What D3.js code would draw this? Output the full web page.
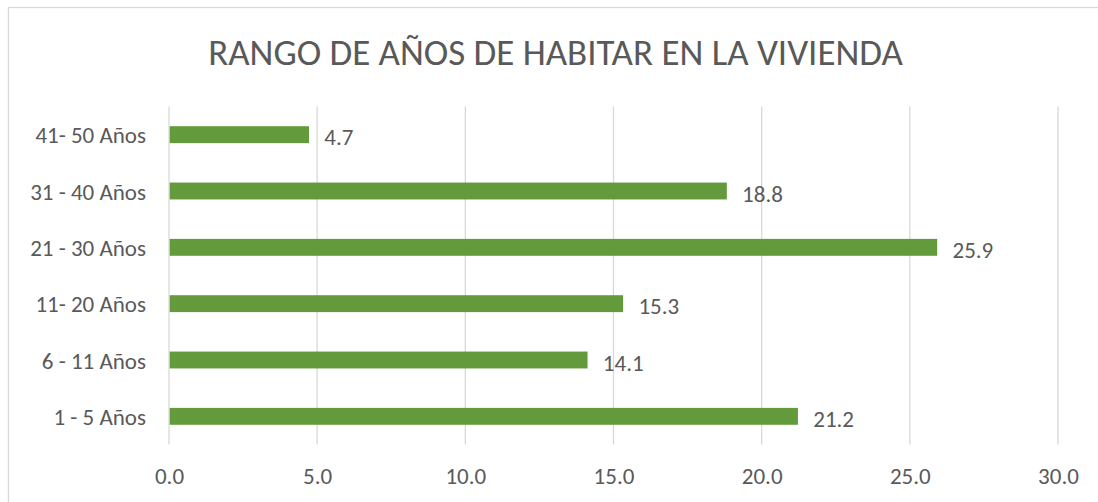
<!DOCTYPE html>
<html>
<head>
<meta charset="utf-8">
<script src="https://cdn.jsdelivr.net/npm/d3@7"></script>
<style>
  html, body { margin: 0; padding: 0; background: #fff; }
  svg { display: block; }
  text { font-family: Carlito, Lato, "Open Sans", sans-serif; fill: #595959; }
</style>
</head>
<body>
<svg id="chart" width="1098" height="502"></svg>
<script>
// Rango de años de habitar en la vivienda (porcentaje)
const categories = ["41- 50 Años", "31 - 40 Años", "21 - 30 Años", "11- 20 Años", "6 - 11 Años", "1 - 5 Años"];
const values = [4.7, 18.8, 25.9, 15.3, 14.1, 21.2];
const tickValues = [0, 5, 10, 15, 20, 25, 30];
const title = "RANGO DE AÑOS DE HABITAR EN LA VIVIENDA";

const svg = d3.select("#chart");
const W = 1098, H = 502;
const plot = { left: 169, right: 1058, top: 106.5, bottom: 444.5 };

// outer frame (extends past the right and bottom edges)
svg.append("rect")
  .attr("x", 8.5).attr("y", 7.5)
  .attr("width", W + 10).attr("height", H + 10)
  .attr("fill", "#fff")
  .attr("stroke", "#d9d9d9").attr("stroke-width", 1.3);

const x = d3.scaleLinear().domain([0, 30]).range([plot.left, plot.right]);
const y = d3.scaleBand().domain(categories).range([plot.top, plot.bottom]).paddingInner(0.7).paddingOuter(0.35);

// vertical gridlines
svg.append("g")
  .selectAll("line")
  .data(tickValues)
  .join("line")
  .attr("x1", d => x(d)).attr("x2", d => x(d))
  .attr("y1", plot.top).attr("y2", plot.bottom)
  .attr("stroke", "#d9d9d9").attr("stroke-width", 1.3);

// x axis tick labels
const xAxis = d3.axisBottom(x).tickValues(tickValues).tickFormat(d3.format(".1f")).tickSize(0).tickPadding(0);
const gx = svg.append("g").attr("transform", `translate(0,${plot.bottom})`).call(xAxis);
gx.select(".domain").remove();
gx.selectAll("text")
  .attr("y", 39.5).attr("dy", null)
  .style("font-size", "23px").attr("fill", "#595959");

// y axis category labels
const yAxis = d3.axisLeft(y).tickSize(0).tickPadding(0);
const gy = svg.append("g").attr("transform", `translate(${plot.left - 23},0)`).call(yAxis);
gy.select(".domain").remove();
gy.selectAll("text")
  .attr("x", 0).attr("dy", "0.38em")
  .style("font-size", "23px").attr("fill", "#595959");

// bars
const bandH = y.bandwidth();
svg.append("g")
  .selectAll("rect")
  .data(values)
  .join("rect")
  .attr("x", x(0) + 0.7)
  .attr("y", (d, i) => y(categories[i]))
  .attr("width", d => x(d) - x(0))
  .attr("height", bandH)
  .attr("fill", "#629a3c");

// value labels
svg.append("g")
  .selectAll("text")
  .data(values)
  .join("text")
  .attr("x", d => x(d) + 16)
  .attr("y", (d, i) => y(categories[i]) + bandH / 2 + 2)
  .attr("dy", "0.38em")
  .style("font-size", "23px")
  .attr("fill", "#404040")
  .text(d => d3.format(".1f")(d));

// title, fitted to its width
const t = svg.append("text")
  .attr("x", 555.5).attr("y", 65)
  .attr("text-anchor", "middle")
  .style("font-size", "32px")
  .text(title);
const tw = t.node().getComputedTextLength();
t.style("font-size", (32 * 695 / tw) + "px");
</script>
</body>
</html>
